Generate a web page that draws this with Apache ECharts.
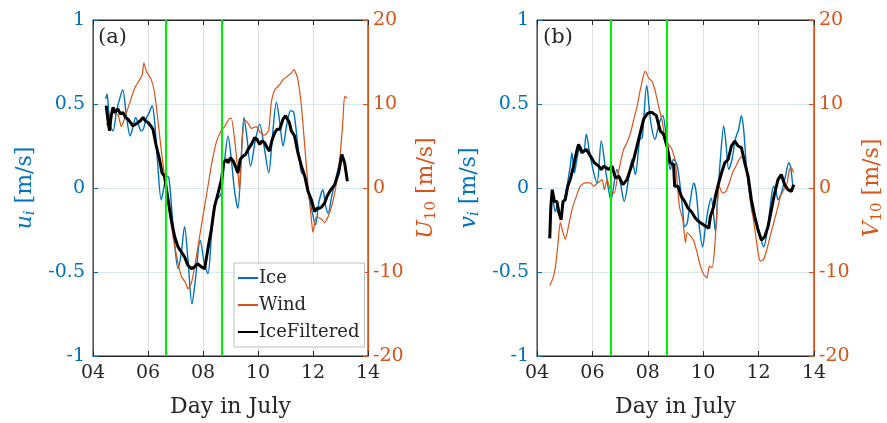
<!DOCTYPE html>
<html>
<head>
<meta charset="utf-8">
<script src="https://cdn.jsdelivr.net/npm/echarts@6/dist/echarts.min.js"></script>
<style>
  html, body { margin: 0; padding: 0; background: #fff; }
  #chart { width: 887px; height: 423px; }
</style>
</head>
<body>
<div id="chart"></div>
<script>
// x ticks (day in July) and split markers
const xTicks = [4, 6, 8, 10, 12, 14];
const splitDays = [6.66, 8.70];

// panel (a): u component. [day, value]
const iceA = [[4.46,0.53],[4.51,0.56],[4.57,0.46],[4.65,0.36],[4.73,0.34],[4.85,0.45],[4.95,0.52],[5.08,0.585],[5.2,0.45],[5.35,0.31],[5.45,0.36],[5.55,0.42],[5.65,0.38],[5.75,0.34],[5.83,0.35],[5.95,0.42],[6.05,0.45],[6.15,0.49],[6.25,0.38],[6.35,0.15],[6.48,-0.07],[6.6,0.02],[6.7,0.07],[6.76,0.06],[6.85,-0.1],[6.95,-0.3],[7.09,-0.48],[7.2,-0.4],[7.33,-0.23],[7.45,-0.42],[7.6,-0.69],[7.72,-0.55],[7.9,-0.31],[8.05,-0.45],[8.18,-0.51],[8.3,-0.3],[8.42,-0.1],[8.48,-0.07],[8.55,-0.06],[8.67,-0.03],[8.79,0.17],[8.91,0.31],[9.03,0.17],[9.15,-0.02],[9.27,-0.12],[9.38,0.15],[9.49,0.42],[9.6,0.3],[9.73,0.13],[9.9,0.28],[10.06,0.38],[10.22,0.25],[10.39,0.09],[10.52,0.3],[10.67,0.51],[10.8,0.38],[10.91,0.25],[11.05,0.38],[11.19,0.46],[11.3,0.45],[11.45,0.25],[11.58,0.09],[11.7,0.08],[11.85,-0.05],[11.98,-0.15],[12.09,-0.22],[12.22,-0.08],[12.36,-0.01],[12.45,-0.1],[12.55,-0.15],[12.68,-0.05],[12.79,0.03],[12.97,0.15],[13.05,0.19]];
const windA = [[4.48,7.7],[4.58,7.3],[4.73,8.9],[4.91,8.7],[5.03,7.3],[5.15,8.3],[5.33,10.1],[5.52,11.9],[5.7,12.9],[5.79,13.5],[5.85,14.9],[5.94,13.9],[6.12,12.9],[6.24,11.3],[6.36,8.1],[6.48,4.6],[6.6,1.4],[6.73,-1.8],[6.85,-4.5],[6.97,-6.9],[7.09,-8.9],[7.21,-10.5],[7.37,-11.3],[7.45,-12.0],[7.58,-11.3],[7.7,-9.3],[7.82,-6.9],[7.94,-4.5],[8.12,-1.0],[8.3,2.6],[8.48,5.4],[8.67,6.9],[8.79,7.3],[8.97,8.3],[9.03,8.3],[9.15,5.8],[9.25,2.6],[9.33,-0.4],[9.42,5.4],[9.52,8.1],[9.64,7.7],[9.76,7.1],[9.94,7.3],[10.06,6.7],[10.24,6.3],[10.39,6.9],[10.48,10.1],[10.61,11.7],[10.79,12.3],[10.91,12.9],[11.07,13.3],[11.21,13.7],[11.31,14.1],[11.45,12.9],[11.58,9.7],[11.7,5.0],[11.82,0.2],[11.94,-3.7],[12.0,-5.3],[12.12,-3.4],[12.3,-3.7],[12.42,-4.1],[12.61,-2.9],[12.79,-0.6],[12.97,3.4],[13.09,8.1],[13.15,10.9],[13.25,10.7]];
const filtA = [[4.48,0.49],[4.53,0.42],[4.6,0.34],[4.66,0.43],[4.73,0.48],[4.8,0.45],[4.9,0.47],[5.0,0.44],[5.09,0.45],[5.18,0.42],[5.27,0.41],[5.36,0.39],[5.45,0.37],[5.55,0.38],[5.64,0.39],[5.72,0.40],[5.82,0.42],[5.9,0.40],[6.0,0.39],[6.1,0.37],[6.18,0.35],[6.3,0.25],[6.42,0.17],[6.51,0.09],[6.6,0.07],[6.73,-0.07],[6.85,-0.19],[6.97,-0.29],[7.09,-0.35],[7.21,-0.38],[7.33,-0.41],[7.45,-0.46],[7.58,-0.48],[7.7,-0.47],[7.8,-0.45],[7.94,-0.47],[8.06,-0.48],[8.18,-0.36],[8.3,-0.25],[8.42,-0.11],[8.55,-0.03],[8.67,0.05],[8.75,0.15],[8.85,0.17],[8.91,0.15],[9.0,0.18],[9.1,0.16],[9.2,0.12],[9.27,0.09],[9.35,0.17],[9.46,0.19],[9.55,0.2],[9.64,0.23],[9.76,0.26],[9.88,0.30],[9.96,0.29],[10.06,0.26],[10.15,0.28],[10.24,0.27],[10.33,0.24],[10.42,0.22],[10.5,0.28],[10.61,0.33],[10.7,0.35],[10.79,0.35],[10.91,0.41],[11.0,0.43],[11.07,0.44],[11.14,0.39],[11.21,0.34],[11.33,0.31],[11.45,0.21],[11.58,0.13],[11.7,0.07],[11.82,-0.02],[11.94,-0.07],[12.06,-0.14],[12.15,-0.12],[12.24,-0.12],[12.33,-0.11],[12.42,-0.09],[12.51,-0.05],[12.61,-0.02],[12.7,0.0],[12.79,0.02],[12.93,0.09],[13.05,0.2],[13.15,0.15],[13.25,0.04]];

// panel (b): v component
const iceB = [[4.5,-0.11],[4.56,-0.07],[4.66,-0.14],[4.75,-0.1],[4.84,-0.16],[4.94,-0.1],[5.08,0.01],[5.2,0.13],[5.26,0.21],[5.35,0.09],[5.44,0.17],[5.56,0.25],[5.68,0.21],[5.78,0.32],[5.9,0.21],[6.05,0.09],[6.17,0.03],[6.32,0.28],[6.5,0.08],[6.67,-0.07],[6.89,0.11],[7.02,0.02],[7.15,-0.08],[7.3,0.05],[7.43,0.17],[7.55,0.08],[7.71,0.29],[7.8,0.3],[7.96,0.61],[8.1,0.4],[8.26,0.29],[8.4,0.38],[8.54,0.43],[8.68,0.28],[8.81,0.11],[8.93,0.17],[9.05,0.14],[9.14,0.05],[9.26,-0.13],[9.33,-0.23],[9.42,-0.21],[9.54,-0.07],[9.66,0.03],[9.75,-0.03],[9.86,-0.23],[9.98,-0.35],[10.08,-0.23],[10.2,-0.11],[10.29,-0.06],[10.37,-0.15],[10.44,-0.26],[10.53,-0.03],[10.62,0.17],[10.74,0.37],[10.83,0.25],[10.92,0.11],[11.04,0.17],[11.16,0.29],[11.28,0.35],[11.38,0.43],[11.46,0.35],[11.55,0.15],[11.64,0.01],[11.76,-0.14],[11.86,-0.17],[11.94,-0.21],[12.06,-0.29],[12.18,-0.35],[12.3,-0.27],[12.42,-0.11],[12.54,0.01],[12.62,-0.01],[12.7,-0.07],[12.82,-0.03],[12.97,0.07],[13.09,0.15],[13.15,0.13],[13.23,0.02]];
const windB = [[4.46,-11.6],[4.58,-10.7],[4.66,-9.5],[4.75,-6.9],[4.84,-4.1],[4.94,-5.3],[5.02,-6.1],[5.14,-4.5],[5.26,-2.6],[5.42,-1.0],[5.56,0.2],[5.74,0.6],[5.93,0.6],[6.05,0.2],[6.19,0.6],[6.35,1.0],[6.43,-0.2],[6.53,1.0],[6.67,-0.4],[6.79,-0.6],[6.89,1.0],[7.01,3.0],[7.13,4.6],[7.25,5.4],[7.37,6.5],[7.49,8.1],[7.61,9.7],[7.73,11.7],[7.85,13.5],[7.91,13.9],[8.03,13.1],[8.15,12.7],[8.27,11.5],[8.39,9.7],[8.51,8.1],[8.63,5.8],[8.75,5.2],[8.87,4.6],[8.99,3.2],[9.14,-2.2],[9.26,-3.7],[9.36,-6.5],[9.42,-5.3],[9.54,-5.7],[9.66,-6.3],[9.78,-7.7],[9.9,-9.3],[10.02,-10.3],[10.14,-10.7],[10.22,-9.3],[10.32,-9.5],[10.41,-7.3],[10.5,-2.6],[10.58,0.2],[10.7,-0.6],[10.82,-0.4],[10.94,0.6],[11.06,1.8],[11.18,2.6],[11.3,3.4],[11.43,3.8],[11.52,3.4],[11.64,0.2],[11.76,-2.6],[11.88,-5.3],[11.98,-7.7],[12.06,-8.7],[12.18,-8.5],[12.3,-7.3],[12.42,-5.7],[12.54,-4.2],[12.67,-2.6],[12.79,-1.0],[12.91,-0.2],[13.03,0.6],[13.11,2.2],[13.18,2.4],[13.27,1.8]];
const filtB = [[4.46,-0.30],[4.5,-0.11],[4.55,-0.01],[4.63,-0.08],[4.72,-0.08],[4.78,-0.14],[4.87,-0.19],[4.94,-0.08],[5.02,-0.07],[5.11,0.01],[5.2,0.05],[5.32,0.13],[5.42,0.21],[5.5,0.26],[5.62,0.21],[5.7,0.22],[5.78,0.23],[5.93,0.19],[6.07,0.15],[6.23,0.13],[6.32,0.11],[6.41,0.13],[6.5,0.12],[6.59,0.11],[6.71,0.13],[6.83,0.06],[6.95,0.07],[7.1,0.02],[7.25,0.05],[7.37,0.11],[7.49,0.17],[7.61,0.25],[7.73,0.33],[7.85,0.41],[7.97,0.44],[8.06,0.45],[8.15,0.45],[8.23,0.44],[8.31,0.43],[8.45,0.34],[8.57,0.32],[8.69,0.25],[8.81,0.15],[8.87,0.15],[8.93,0.14],[8.97,0.01],[9.09,0.01],[9.21,-0.05],[9.33,-0.08],[9.45,-0.12],[9.57,-0.14],[9.72,-0.18],[9.84,-0.20],[10.02,-0.22],[10.2,-0.24],[10.26,-0.17],[10.38,-0.11],[10.44,-0.05],[10.56,0.03],[10.68,0.10],[10.78,0.15],[10.9,0.17],[11.02,0.25],[11.14,0.28],[11.26,0.25],[11.38,0.24],[11.5,0.15],[11.62,0.07],[11.74,-0.07],[11.86,-0.17],[11.98,-0.25],[12.1,-0.31],[12.22,-0.29],[12.34,-0.23],[12.46,-0.13],[12.58,-0.03],[12.7,0.05],[12.82,0.08],[12.94,0.02],[13.06,-0.01],[13.18,-0.02],[13.27,0.02]];

const BLUE = '#0072BD', ORANGE = '#D95319', INK = '#262626';
const FONT = 'DejaVu Serif';

const chart = echarts.init(document.getElementById('chart'), null, { renderer: 'canvas' });

const nameRich = (color) => ({
  it: { fontFamily: FONT, fontSize: 22, fontStyle: 'italic', color },
  sub: { fontFamily: FONT, fontSize: 15, fontStyle: 'italic', color, padding: [10, 0, 0, 0] },
  sn: { fontFamily: FONT, fontSize: 15, color, padding: [10, 0, 0, 0] },
  t: { fontFamily: FONT, fontSize: 22, color }
});

function xAxis(gridIndex) {
  return {
    gridIndex, type: 'value', min: xTicks[0], max: xTicks[xTicks.length - 1], interval: 2,
    name: 'Day in July', nameLocation: 'middle', nameGap: 40,
    nameTextStyle: { fontFamily: FONT, fontSize: 22, color: INK },
    axisLine: { onZero: false, lineStyle: { color: INK, width: 1 } },
    axisTick: { inside: true, length: 5, lineStyle: { color: INK } },
    axisLabel: { fontFamily: FONT, fontSize: 19, color: INK, margin: 8,
      formatter: v => (v < 10 ? '0' + v : String(v)) },
    splitLine: { show: true, lineStyle: { color: '#dfdfdf', width: 1 } }
  };
}

// top border ticks (no labels)
function xTopAxis(gridIndex) {
  return {
    gridIndex, type: 'value', position: 'top', min: 4, max: 14, interval: 2,
    axisLine: { onZero: false, lineStyle: { color: INK, width: 1 } },
    axisTick: { inside: true, length: 5, lineStyle: { color: INK } },
    axisLabel: { show: false }, splitLine: { show: false }
  };
}

function leftAxis(gridIndex, name) {
  return {
    gridIndex, type: 'value', position: 'left', min: -1, max: 1, interval: 0.5,
    name, nameLocation: 'middle', nameGap: 55,
    nameTextStyle: { rich: nameRich(BLUE) },
    axisLine: { show: true, onZero: false, lineStyle: { color: BLUE, width: 1 } },
    axisTick: { show: true, inside: true, length: 5, lineStyle: { color: BLUE } },
    axisLabel: { fontFamily: FONT, fontSize: 19, color: BLUE, margin: 8 },
    splitLine: { show: true, lineStyle: { color: '#d9e7f3', width: 1 } }
  };
}

function rightAxis(gridIndex, name) {
  return {
    gridIndex, type: 'value', position: 'right', min: -20, max: 20, interval: 10,
    name, nameLocation: 'middle', nameGap: 46, nameRotate: 90,
    nameTextStyle: { rich: nameRich(ORANGE) },
    axisLine: { show: true, onZero: false, lineStyle: { color: ORANGE, width: 1 } },
    axisTick: { show: true, inside: true, length: 5, lineStyle: { color: ORANGE } },
    axisLabel: { fontFamily: FONT, fontSize: 19, color: ORANGE, margin: 5 },
    splitLine: { show: false }
  };
}

function lineSeries(name, data, xi, yi, color, width, smooth) {
  return {
    name, type: 'line', data, xAxisIndex: xi, yAxisIndex: yi,
    symbol: 'none', showSymbol: false, smooth, animation: false,
    lineStyle: { color, width }, itemStyle: { color }
  };
}

function splitSeries(xi, yi) {
  return {
    name: 'split', type: 'line', data: [], xAxisIndex: xi, yAxisIndex: yi,
    symbol: 'none', animation: false, silent: true,
    markLine: {
      symbol: 'none', silent: true, animation: false, label: { show: false },
      lineStyle: { color: '#00ee00', width: 2, type: 'solid' },
      data: splitDays.map(d => ({ xAxis: d }))
    }
  };
}

chart.setOption({
  animation: false,
  grid: [
    { left: 93, top: 20, width: 275, height: 337, show: true, borderColor: INK, borderWidth: 1 },
    { left: 537, top: 20, width: 277, height: 337, show: true, borderColor: INK, borderWidth: 1 }
  ],
  xAxis: [xAxis(0), xAxis(1), xTopAxis(0), xTopAxis(1)],
  yAxis: [
    leftAxis(0, '{it|u}{sub|i}{t| [m/s]}'),
    rightAxis(0, '{it|U}{sn|10}{t| [m/s]}'),
    leftAxis(1, '{it|v}{sub|i}{t| [m/s]}'),
    rightAxis(1, '{it|V}{sn|10}{t| [m/s]}')
  ],
  legend: {
    data: ['Ice', 'Wind', 'IceFiltered'],
    orient: 'vertical', left: 234, top: 263,
    itemWidth: 20, itemHeight: 14, itemGap: 9,
    itemStyle: { opacity: 0 },
    padding: [6, 5, 6, 3],
    backgroundColor: '#fff', borderColor: '#c0c0c0', borderWidth: 1,
    textStyle: { fontFamily: FONT, fontSize: 18, color: INK, padding: [0, 0, 0, -4] }
  },
  graphic: [
    { type: 'text', left: 98, top: 27, style: { text: '(a)', font: '21px ' + FONT, fill: INK } },
    { type: 'text', left: 543, top: 27, style: { text: '(b)', font: '21px ' + FONT, fill: INK } }
  ],
  series: [
    splitSeries(0, 0),
    lineSeries('Ice', iceA, 0, 0, BLUE, 1.4, 0.3),
    lineSeries('Wind', windA, 0, 1, ORANGE, 1.2, 0.2),
    lineSeries('IceFiltered', filtA, 0, 0, '#000', 3, false),
    splitSeries(1, 2),
    lineSeries('Ice', iceB, 1, 2, BLUE, 1.4, 0.3),
    lineSeries('Wind', windB, 1, 3, ORANGE, 1.2, 0.2),
    lineSeries('IceFiltered', filtB, 1, 2, '#000', 3, false)
  ]
});
</script>
</body>
</html>
